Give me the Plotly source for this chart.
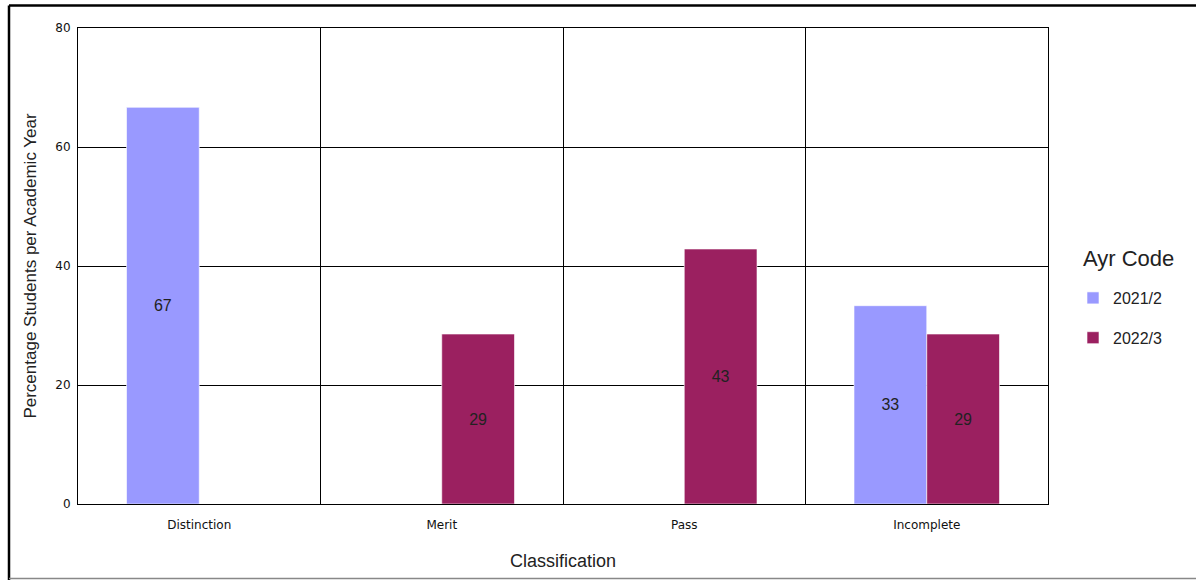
import plotly.graph_objects as go

categories = ["Distinction", "Merit", "Pass", "Incomplete"]
series_names = ["2021/2", "2022/3"]
values_2021 = [66.67, None, None, 33.33]
values_2022 = [None, 28.57, 42.86, 28.57]
y_ticks = [0, 20, 40, 60, 80]
legend_title = "Ayr Code"

colors = ["#9999FF", "#9B2060"]

W, H = 1196, 580
L, R, T, B = 78, 148, 28, 76
pw, ph = W - L - R, H - T - B

def px(x):
    return (x - L) / pw

def py(y):
    return (H - B - y) / ph

fig = go.Figure()
for i, (name, vals) in enumerate(zip(series_names, [values_2021, values_2022])):
    fig.add_trace(go.Bar(
        x=categories, y=vals, name=name,
        marker=dict(color=colors[i], line=dict(color="rgba(255,255,255,0.6)", width=1)),
        texttemplate="%{y:.0f}", textposition="inside", insidetextanchor="middle",
        textfont=dict(family="Liberation Sans, Arial, sans-serif", size=16, color="#222222"),
        constraintext="none",
        legendgroup=name,
    ))

fig.update_layout(
    width=W, height=H,
    margin=dict(l=L, r=R, t=T, b=B),
    paper_bgcolor="white", plot_bgcolor="white",
    barmode="group", bargap=0.4, bargroupgap=0,
    legend=dict(
        font=dict(family="Liberation Sans, Arial, sans-serif", size=16, color="#222222"),
        x=px(1073), xanchor="left", y=py(318), yanchor="middle",
        tracegroupgap=16, itemwidth=30,
        bgcolor="rgba(0,0,0,0)",
    ),
    annotations=[
        dict(text=legend_title, xref="paper", yref="paper", x=px(1081), y=py(258),
             xanchor="left", yanchor="middle", showarrow=False,
             font=dict(family="Liberation Sans, Arial, sans-serif", size=22, color="#222222")),
    ],
    xaxis=dict(
        type="category", range=[-0.5, 3.5], automargin=False,
        tickson="boundaries", showgrid=True, gridcolor="black", gridwidth=1,
        showline=True, linecolor="black", linewidth=1, mirror=True,
        ticks="", ticklabelstandoff=10,
        tickfont=dict(family="DejaVu Sans, sans-serif", size=12, color="#111111"),
        title=dict(text="Classification", standoff=22,
                   font=dict(family="Liberation Sans, Arial, sans-serif", size=18, color="#222222")),
    ),
    yaxis=dict(
        range=[0, 80], tickvals=y_ticks, automargin=False,
        showgrid=True, gridcolor="black", gridwidth=1,
        zeroline=True, zerolinecolor="black", zerolinewidth=1,
        showline=True, linecolor="black", linewidth=1, mirror=True,
        ticks="outside", ticklen=4, tickcolor="rgba(0,0,0,0)",
        tickfont=dict(family="DejaVu Sans, sans-serif", size=12, color="#111111"),
        title=dict(text="Percentage Students per Academic Year", standoff=14,
                   font=dict(family="Liberation Sans, Arial, sans-serif", size=17, color="#222222")),
    ),
    shapes=[
        dict(type="line", xref="paper", yref="paper", x0=px(9), x1=px(1200), y0=py(5.5), y1=py(5.5),
             line=dict(color="black", width=2.5)),
        dict(type="line", xref="paper", yref="paper", x0=px(9), x1=px(9), y0=py(5.5), y1=py(580),
             line=dict(color="black", width=2.5)),
        dict(type="line", xref="paper", yref="paper", x0=px(9), x1=px(1200), y0=py(578.5), y1=py(578.5),
             line=dict(color="#888888", width=1.5)),
    ],
)

fig.write_html("out.html", config={"displayModeBar": False},
               post_script="document.body.style.margin='0';document.body.style.overflow='hidden';")
